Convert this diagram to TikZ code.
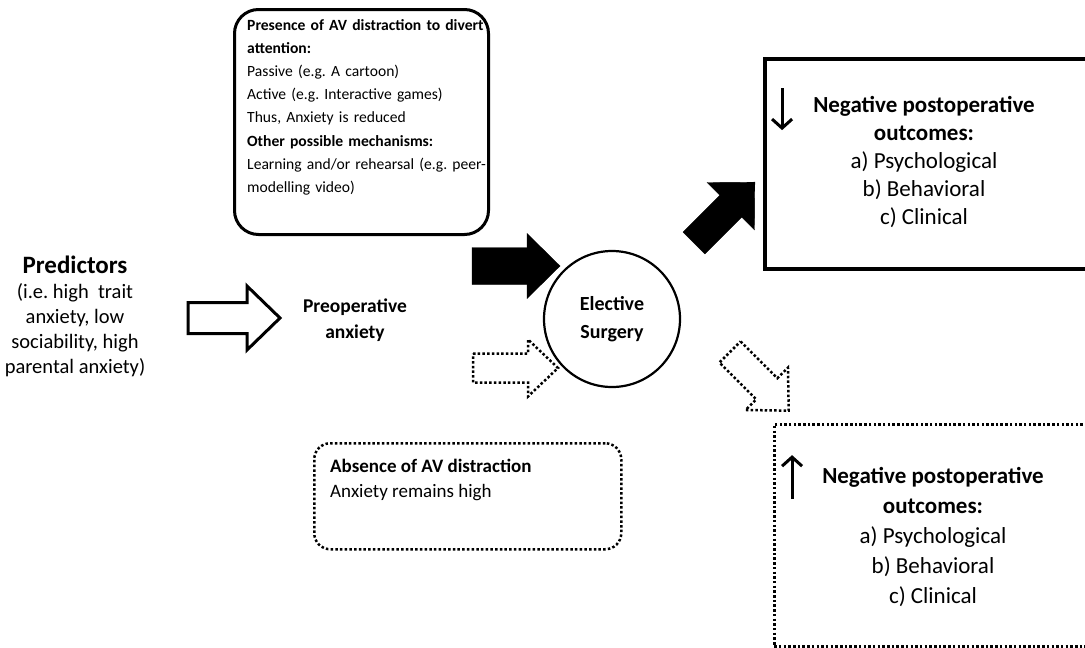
\documentclass[tikz,border=0pt]{standalone}
\usepackage{fontspec}
\setmainfont{Carlito}
\usepackage{tikz}
\usetikzlibrary{arrows.meta}
\usetikzlibrary{positioning}
\frenchspacing

% block arrow: [options]{tail}{angle}{length}{shaft width}{head width}{head length}
\newcommand{\blockarrow}[7][]{%
  \draw[#1,shift={(#2)},rotate=#3] (0,-#5/2) -- (#4-#7,-#5/2) -- (#4-#7,-#6/2) -- (#4,0)
    -- (#4-#7,#6/2) -- (#4-#7,#5/2) -- (0,#5/2) -- cycle;}

\begin{document}
\begin{tikzpicture}[x=1pt,y=-1pt,
    dots/.style={line width=2.5pt,dash pattern=on 2.5pt off 2.2pt},
    boxtext/.style={inner sep=0pt,align=left,anchor=north west},
    outtext/.style={align=center,inner sep=0pt},
    updown/.style={line width=3pt,-{Straight Barb[length=9pt,width=20pt]}}]
    \clip (0,0) rectangle (1085,648);

    % boxes
    \node[draw,line width=3pt,rounded corners=24pt,minimum width=254,minimum height=225,anchor=north west] (presence) at (233,8) {};
    \node[boxtext,text width=260,font=\fontsize{15.6}{23.2}\selectfont] (presencetxt) at (247,19)
        {\textbf{Presence of AV distraction to divert}\\
         \textbf{attention:}\\
         Passive (e.g. A cartoon)\\
         Active (e.g. Interactive games)\\
         Thus, Anxiety is reduced\\
         \textbf{Other possible mechanisms:}\\
         Learning and/or rehearsal (e.g. peer-\\
         modelling video)};

    \node[draw,line width=3.5pt,minimum width=335,minimum height=210,anchor=north west] (lowout) at (763,57) {};
    \node[outtext,font=\fontsize{23}{28}\selectfont] (lowtxt) at (924,162)
        {\textbf{Negative postoperative}\\\textbf{outcomes:}\\a) Psychological\\b) Behavioral\\c) Clinical};
    \draw[updown] ([xshift=-31pt,yshift=8pt]lowtxt.north west) -- ++(0,42);

    \node[draw,dots,minimum width=330,minimum height=222,anchor=north west] (highout) at (773,423) {};
    \node[outtext,font=\fontsize{23}{30}\selectfont] (hightxt) at (933,537)
        {\textbf{Negative postoperative}\\\textbf{outcomes:}\\a) Psychological\\b) Behavioral\\c) Clinical};
    \draw[updown] ([xshift=-30pt,yshift=-32pt]hightxt.north west) -- ++(0,-44);

    \node[draw,dots,rounded corners=16pt,minimum width=307,minimum height=106,anchor=north west] (absence) at (313,442) {};
    \node[boxtext,font=\fontsize{19}{25}\selectfont] (absencetxt) at (330,459)
        {\textbf{Absence of AV distraction}\\Anxiety remains high};

    % left side
    \node[font=\bfseries\fontsize{25}{30}\selectfont] (pred) at (75,265) {Predictors};
    \node[align=center,inner sep=0pt,font=\fontsize{20.5}{25}\selectfont,below=6pt of pred] (predlist)
        {(i.e. high~ trait\\anxiety, low\\sociability, high\\parental anxiety)};
    \node[align=center,font=\bfseries\fontsize{19.5}{26}\selectfont] (preop) at (355,320) {Preoperative\\anxiety};

    \node[circle,draw,line width=2.2pt,minimum size=136,align=center,
          font=\bfseries\fontsize{20}{28}\selectfont] (surgery) at (612,319) {Elective\\Surgery};

    % block arrows
    \coordinate (predtail) at (188,318);
    \coordinate (withtail) at (472,266);
    \coordinate (lowtail) at (694,243);
    \coordinate (withouttail) at (473,368);
    \coordinate (hightail) at (730,352);
    \blockarrow[line width=3pt,fill=white]{predtail}{0}{92}{31}{64}{33}
    \blockarrow[fill=black]{withtail}{0}{88}{37}{65}{33}
    \blockarrow[fill=black]{lowtail}{45}{86}{31}{67}{34}
    \blockarrow[dots]{withouttail}{0}{85}{29}{57}{30}
    \blockarrow[dots]{hightail}{-45}{83}{30}{60}{31}
\end{tikzpicture}
\end{document}
